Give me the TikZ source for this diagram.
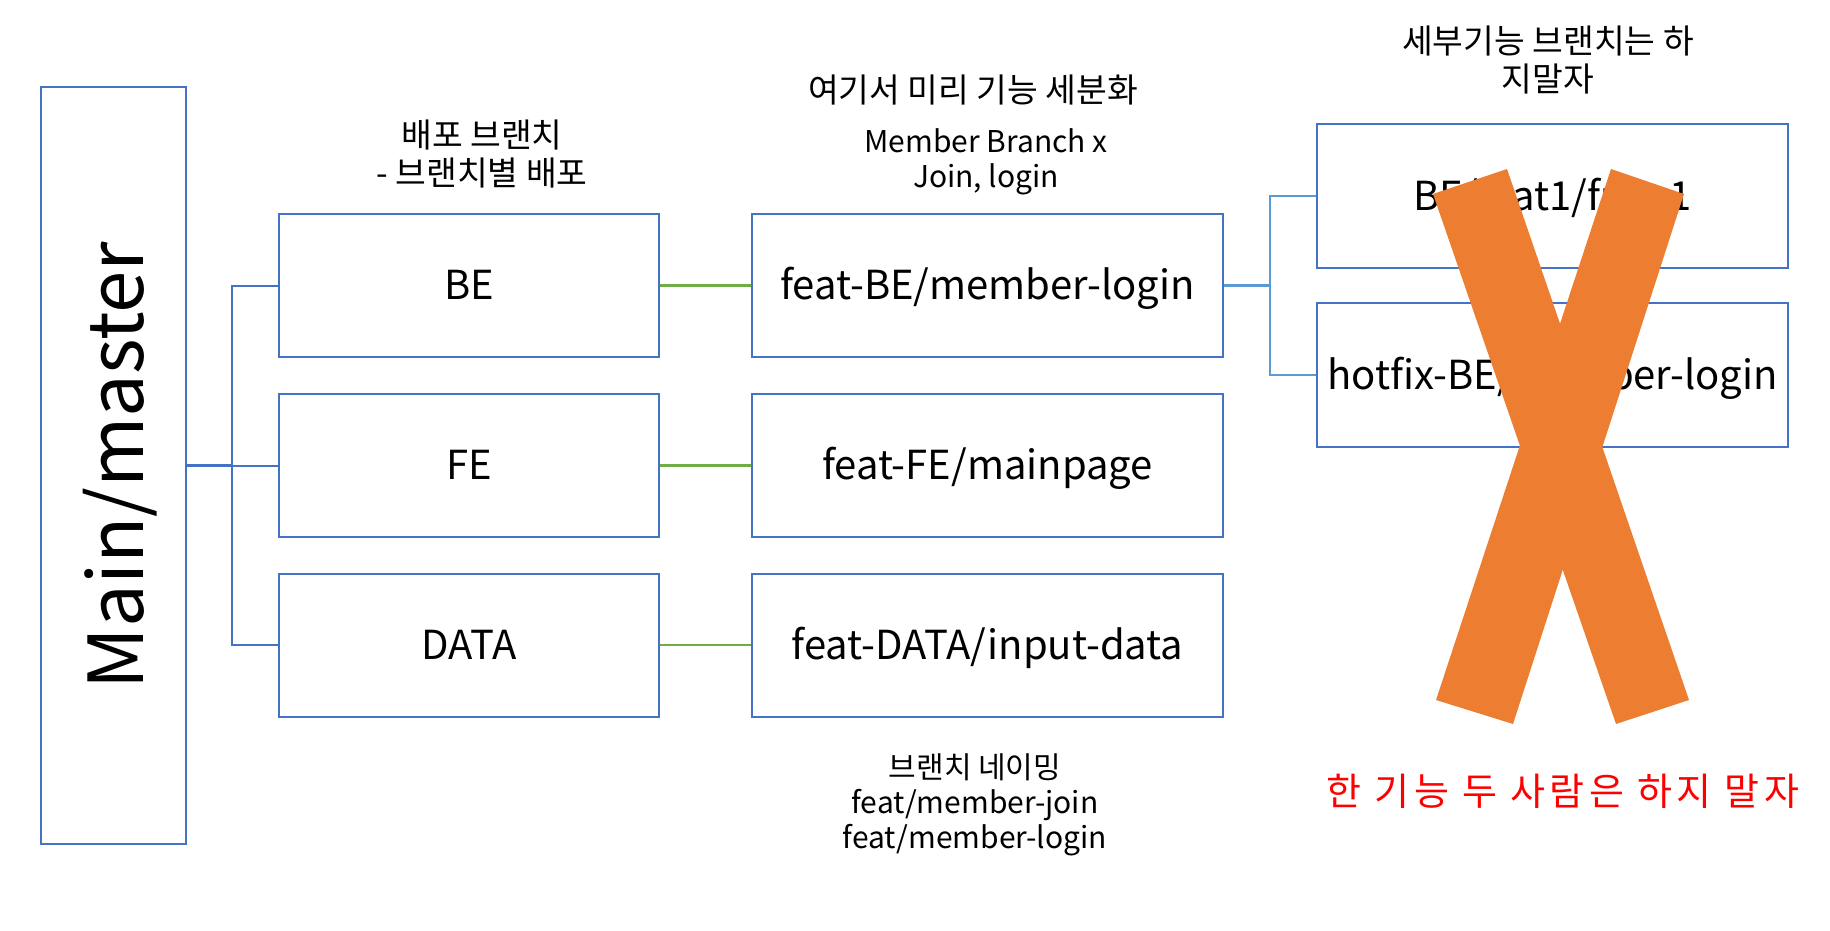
\documentclass[tikz,border=0pt]{standalone}
\usepackage{fontspec}
\setmainfont{Noto Sans CJK KR}
\usetikzlibrary{positioning}

\definecolor{boxblue}{HTML}{4472C4}
\definecolor{linkblue}{HTML}{5B9BD5}
\definecolor{linkgreen}{HTML}{70AD47}
\definecolor{crossorange}{HTML}{ED7D31}

\tikzset{
  branchbox/.style={draw=boxblue, line width=1pt, minimum width=190pt, minimum height=71.5pt,
    text height=19pt, text depth=4.7pt, font=\fontsize{20}{24}\selectfont},
  featbox/.style={branchbox, minimum width=235.5pt},
  note/.style={align=center, font=\fontsize{15}{17.5}\selectfont},
  knote/.style={align=center, font=\fontsize{16.7}{19}\selectfont},
  tree/.style={draw=boxblue, line width=1pt},
  link/.style={draw=linkgreen, line width=1.2pt},
  sublink/.style={draw=linkblue, line width=0.8pt}
}

\begin{document}
\begin{tikzpicture}[x=0.5pt, y=-0.5pt]
    \useasboundingbox (0,0) rectangle (1830,931);

    % Main branch
    \node[draw=boxblue, line width=1pt, minimum width=72.5pt, minimum height=378.5pt] (main) at (113.5,465.5) {};
    \node[rotate=90, font=\fontsize{38}{46}\selectfont] (mainlabel) at (120,465.5) {Main/master};

    % Deploy branches
    \node[branchbox] (be) at (469,285.5) {BE};
    \node[branchbox] (fe) at (469,465.5) {FE};
    \node[branchbox] (data) at (469,645) {DATA};
    \node[knote] (deploynote) at (482,154) {배포 브랜치\\- 브랜치별 배포};

    % Feature branches
    \node[featbox] (featbe) at (987.5,285.5) {feat-BE/member-login};
    \node[featbox] (featfe) at (987.5,465.5) {feat-FE/mainpage};
    \node[featbox] (featdata) at (987.5,645) {feat-DATA/input-data};
    \node[knote] (splitnote) at (973,90.5) {여기서 미리 기능 세분화};
    \node[note] (membernote) at (986,161.5) {Member Branch x\\Join, login};
    \node[note] (namingnote) at (975,805) {브랜치 네이밍\\feat/member-join\\feat/member-login};

    % Sub-feature branches
    \node[featbox, minimum height=72pt] (sub1) at (1552.5,196) {BE/feat1/func1};
    \node[featbox, minimum height=72pt] (sub2) at (1552.5,375) {hotfix-BE/member-login};
    \node[knote] (subnote) at (1548,60) {세부기능 브랜치는 하\\지말자};

    % Connectors
    \coordinate (trunk) at (232,465.5);
    \draw[tree, line width=1.5pt] (main.east) -- (trunk);
    \draw[tree] (trunk) -- (fe.west);
    \draw[tree] (be.west) -| (trunk) |- (data.west);
    \draw[link] (be.east) -- (featbe.west);
    \draw[link] (fe.east) -- (featfe.west);
    \draw[link] (data.east) -- (featdata.west);
    \coordinate (fork) at (1270,285.5);
    \draw[sublink, line width=1.3pt] (featbe.east) -- (fork);
    \draw[sublink] (sub1.west) -| (fork) |- (sub2.west);

    % Cross
    \fill[crossorange] (1433,194) -- (1507,169) -- (1689,700) -- (1616,724) -- cycle;
    \fill[crossorange] (1611,169) -- (1684,194) -- (1513,724) -- (1436,700) -- cycle;
    \node[text=red, font=\fontsize{19}{22}\selectfont\addfontfeatures{LetterSpace=12}] (warning) at (1563,791) {한 기능 두 사람은 하지 말자};
\end{tikzpicture}
\end{document}
